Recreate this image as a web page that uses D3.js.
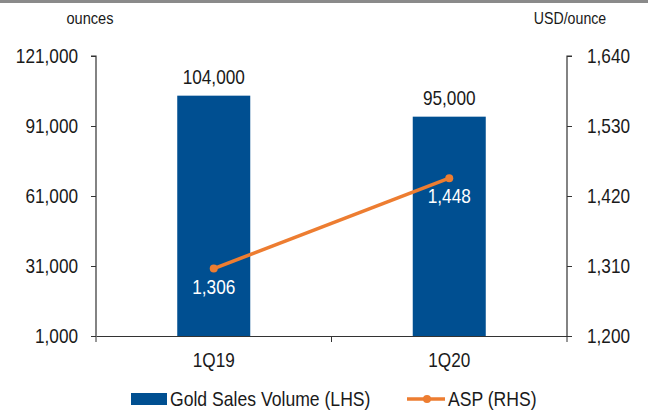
<!DOCTYPE html>
<html><head><meta charset="utf-8">
<script src="https://cdn.jsdelivr.net/npm/d3@7"></script>
<style>body{margin:0;background:#fff}svg{display:block;font-family:"Liberation Sans",Arial,sans-serif}</style>
</head><body><svg id="c" width="648" height="411"></svg>
<script>
const categories = ["1Q19", "1Q20"];
const volume = [104000, 95000];
const asp = [1306, 1448];
const leftTicks = [1000, 31000, 61000, 91000, 121000];
const rightTicks = [1200, 1310, 1420, 1530, 1640];

const svg = d3.select("#c");
const L = 96, R = 567, T = 56, B = 336;
const blue = "#004f91", orange = "#ed7d31", axisC = "#333", txtC = "#1a1a1a";
const FONT = '"Liberation Sans",Arial,sans-serif';

function condense(sel, s) {
  sel.each(function(){
    const x = +(this.getAttribute("x") || 0);
    this.setAttribute("transform", `translate(${x*(1-s)},0) scale(${s},1)`);
  });
}

svg.append("rect").attr("x",0).attr("y",0).attr("width",648).attr("height",3).attr("fill","#8a8a8a");

const x = d3.scaleBand().domain(categories).range([L, R]).paddingInner(0.69).paddingOuter(0.345);
const xb = d3.scaleBand().domain(categories).range([L, R]);
const yL = d3.scaleLinear().domain([1000, 121000]).range([B, T]);
const yR = d3.scaleLinear().domain([1200, 1640]).range([B, T]);
const fmt = d3.format(",");

// bars
svg.selectAll("rect.bar").data(categories).enter().append("rect")
  .attr("x", d=>x(d)).attr("width", x.bandwidth())
  .attr("y", (d,i)=>yL(volume[i])).attr("height", (d,i)=>B - yL(volume[i]))
  .attr("fill", blue);

// axes
const gl = svg.append("g").attr("transform",`translate(${L},0)`)
  .call(d3.axisLeft(yL).tickValues(leftTicks).tickFormat(fmt).tickSize(5).tickPadding(13));
const gr = svg.append("g").attr("transform",`translate(${R},0)`)
  .call(d3.axisRight(yR).tickValues(rightTicks).tickFormat(fmt).tickSize(5).tickPadding(15));
const gx = svg.append("g").attr("transform",`translate(0,${B})`)
  .call(d3.axisBottom(xb).tickSize(0).tickPadding(17));
svg.selectAll("line.xt").data([L, (L+R)/2, R]).enter().append("line")
  .attr("x1",d=>d).attr("x2",d=>d).attr("y1",B).attr("y2",B+6).attr("stroke",axisC);
[gl,gr,gx].forEach(g=>{
  g.attr("font-family", FONT);
  g.select(".domain").attr("stroke",axisC).attr("stroke-width",1.2);
  g.selectAll(".tick line").attr("stroke",axisC);
  g.selectAll("text").attr("font-size",20).attr("fill",txtC);
  condense(g.selectAll("text"), 0.86);
});
gl.select(".domain").attr("d",`M-5,${T}H0V${B}`);
gr.select(".domain").attr("d",`M5,${T}H0V${B}`);

// line
const cx = d => xb(d) + xb.bandwidth()/2;
const line = d3.line().x((d,i)=>cx(categories[i])).y(d=>yR(d));
svg.append("path").datum(asp).attr("d",line).attr("fill","none").attr("stroke",orange).attr("stroke-width",3.5);
svg.selectAll("circle.pt").data(asp).enter().append("circle")
  .attr("cx",(d,i)=>cx(categories[i])).attr("cy",d=>yR(d)).attr("r",4).attr("fill",orange);

// labels
const vl = svg.selectAll("text.vl").data(volume).enter().append("text")
  .attr("x",(d,i)=>cx(categories[i])).attr("y",d=>yL(d)-12)
  .attr("text-anchor","middle").attr("font-size",21).attr("fill",txtC).text(d=>fmt(d));
condense(vl, 0.82);
const al = svg.selectAll("text.al").data(asp).enter().append("text")
  .attr("x",(d,i)=>cx(categories[i])).attr("y",d=>yR(d)+25)
  .attr("text-anchor","middle").attr("font-size",21).attr("fill","#fff").text(d=>fmt(d));
condense(al, 0.82);

// unit titles
const u1 = svg.append("text").attr("x",90).attr("y",24).attr("text-anchor","middle").attr("font-size",17).attr("fill",txtC).text("ounces");
const u2 = svg.append("text").attr("x",570).attr("y",24).attr("text-anchor","middle").attr("font-size",16.5).attr("fill",txtC).text("USD/ounce");
condense(u1, 0.86); condense(u2, 0.86);

// legend
const lg = svg.append("g");
lg.append("rect").attr("x",131).attr("y",393).attr("width",36).attr("height",12).attr("fill",blue);
const t1 = lg.append("text").attr("x",170).attr("y",406).attr("font-size",20).attr("fill",txtC).text("Gold Sales Volume (LHS)");
lg.append("line").attr("x1",407).attr("x2",445).attr("y1",399).attr("y2",399).attr("stroke",orange).attr("stroke-width",3.5);
lg.append("circle").attr("cx",427).attr("cy",399).attr("r",4).attr("fill",orange);
const t2 = lg.append("text").attr("x",448).attr("y",406).attr("font-size",20).attr("fill",txtC).text("ASP (RHS)");
condense(t1, 0.88); condense(t2, 0.88);
</script></body></html>
